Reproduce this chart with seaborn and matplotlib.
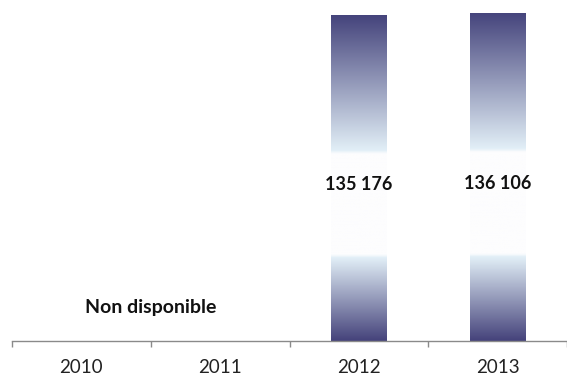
import numpy as np
import pandas as pd
import matplotlib
matplotlib.use("Agg")
import matplotlib.pyplot as plt
from matplotlib.colors import LinearSegmentedColormap
import seaborn as sns

years = ["2010", "2011", "2012", "2013"]
bar_years = ["2012", "2013"]
bar_values = [135176, 136106]
missing_label = "Non disponible"

sns.set_theme(style="white")
plt.rcParams["font.family"] = ["Lato", "DejaVu Sans"]

fig = plt.figure(figsize=(5.67, 3.77), dpi=100)
ax = fig.add_axes([12 / 567, 36 / 377, 555 / 567, 341 / 377])

df = pd.DataFrame({"year": bar_years, "value": bar_values})
sns.barplot(data=df, x="year", y="value", order=years, width=0.40, ax=ax,
            color="#46457e")

ymax = 141500
ax.set_xlim(-0.5, 3.5)
ax.set_ylim(0, ymax)

dark_top = "#45447c"
dark_bot = "#45437b"
light = "#e2eff7"
white = "#fdfdfe"
cmap = LinearSegmentedColormap.from_list(
    "grad",
    [(0.0, dark_bot), (0.255, light), (0.265, white), (0.575, white),
     (0.585, light), (1.0, dark_top)],
)
grad = np.linspace(0, 1, 512).reshape(-1, 1)

for p in list(ax.patches):
    h = p.get_height()
    if not np.isfinite(h) or h <= 0:
        continue
    x0 = p.get_x()
    w = p.get_width()
    p.set_facecolor("none")
    p.set_edgecolor("none")
    im = ax.imshow(grad, cmap=cmap, origin="lower", aspect="auto",
                   extent=[x0, x0 + w, 0, h], zorder=2)
    im.set_clip_path(p)
    ax.text(x0 + w / 2, h * 0.48, f"{int(h):,}".replace(",", " "),
            ha="center", va="center", fontsize=13, fontweight="bold",
            color="#111111", zorder=3)

ax.set_xlim(-0.5, 3.5)
ax.set_ylim(0, ymax)

ax.text(0.5, 14000, missing_label, ha="center", va="center", fontsize=14,
        fontweight="bold", color="#111111")

for s in ["left", "right", "top"]:
    ax.spines[s].set_visible(False)
ax.spines["bottom"].set_color("#8a8a8a")
ax.spines["bottom"].set_linewidth(1.0)

ax.set_yticks([])
ax.set_xlabel("")
ax.set_ylabel("")
ax.set_xticks(range(len(years)))
ax.set_xticklabels(years, fontsize=13.5, color="#222222")
ax.tick_params(axis="x", which="major", length=0, pad=13)
ax.set_xticks(np.arange(-0.5, 3.6, 1.0), minor=True)
ax.tick_params(axis="x", which="minor", length=4, color="#8a8a8a", width=1,
               bottom=True)

fig.savefig("out.png", dpi=100)
